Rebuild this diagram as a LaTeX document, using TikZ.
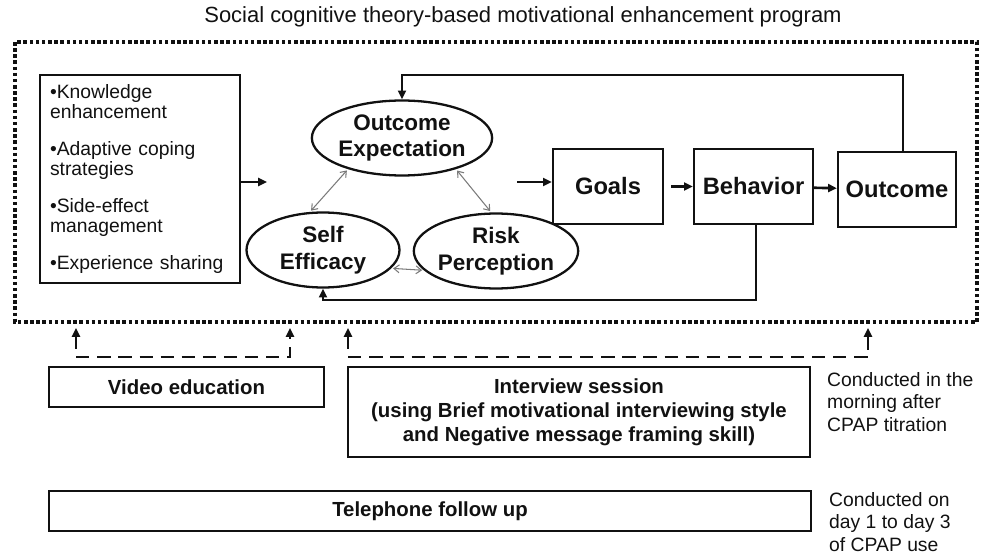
\documentclass[tikz,border=0pt]{standalone}
\usepackage{fontspec}
\setmainfont{Liberation Sans}
\usetikzlibrary{arrows.meta,shapes.geometric}
\definecolor{DCInk}{HTML}{111111}
\definecolor{DCGray}{HTML}{7A7A7A}
\tikzset{
  programtitle/.style={text=DCInk,font=\fontsize{12.5}{15}\selectfont},
  listbox/.style={draw=DCInk,line width=1.3pt,minimum width=4cm,minimum height=4.16cm,
                  text width=3.6cm,inner sep=0pt,align=left,text=DCInk,
                  font=\fontsize{11}{11.4}\selectfont},
  construct/.style={ellipse,draw=DCInk,line width=1.3pt,minimum height=1.5cm,inner sep=0pt,
                    align=center,text=DCInk,font=\fontsize{12.8}{15.3}\selectfont\bfseries},
  stage/.style={draw=DCInk,line width=1.3pt,minimum height=1.5cm,text=DCInk,
                font=\fontsize{13.5}{16}\selectfont\bfseries},
  session/.style={draw=DCInk,line width=1.3pt,align=center,text=DCInk,
                  font=\fontsize{11.6}{13.6}\selectfont\bfseries},
  note/.style={anchor=west,align=left,text=DCInk,font=\fontsize{11}{13}\selectfont},
  flow/.style={-{Triangle[length=5pt,width=4.5pt]},DCInk,line width=1.5pt},
  mutual/.style={{Straight Barb[length=3pt,width=4.5pt]}-{Straight Barb[length=3pt,width=4.5pt]},
                 DCGray,line width=0.6pt,shorten <=1pt,shorten >=1pt},
  trigger/.style={{Triangle[length=5pt,width=4.5pt]}-{Triangle[length=5pt,width=4.5pt]},
                  DCInk,line width=1.5pt,dash pattern=on 7.5pt off 4.5pt},
  frame/.style={DCInk,line width=2pt,dash pattern=on 2pt off 1.5pt},
}

\begin{document}
\begin{tikzpicture}[x=0.02cm,y=-0.02cm]
  \useasboundingbox (0,0) rectangle (985,554);

  \node[programtitle] (title) at (523,17)
    {Social cognitive theory-based motivational enhancement program};
  \draw[frame] (15,42) rectangle (977,322);

  \node[listbox] (know) at (140,179)
    {\textbullet Knowledge\\enhancement\\[9.6pt]
     \textbullet Adaptive coping\\strategies\\[9.6pt]
     \textbullet Side-effect\\management\\[9.6pt]
     \textbullet Experience sharing};

  \node[construct,minimum width=2.86cm] (oe) at (402,138) {Outcome\\Expectation};
  \node[construct,minimum width=3.06cm] (se) at (323,250) {Self\\Efficacy};
  \node[construct,minimum width=2.96cm] (rp) at (496,251) {Risk\\Perception};

  \node[stage,minimum width=2.2cm] (goals) at (608,186.5) {Goals};
  \node[stage,minimum width=2.38cm] (beh) at (753.5,186.5) {Behavior};
  \node[stage,minimum width=2.36cm] (outc) at (897,189.5) {Outcome};

  \draw[mutual] (oe.210) -- (se.109);
  \draw[mutual] (oe.330) -- (rp.97);
  \draw[mutual] (se.345) -- (rp.195);

  \coordinate (kout) at (267,182);
  \coordinate (gin) at (517,182);
  \draw[flow] (know.east |- kout) -- (kout);
  \draw[flow] (gin) -- (gin -| goals.west);
  \draw[flow,shorten <=4pt] (goals) -- (beh);
  \draw[flow] (beh) -- (outc);

  % feedback loops
  \coordinate (fbtop) at (903,75);
  \coordinate (fbbot) at (756,300);
  \draw[flow] (outc.north -| fbtop) |- (fbtop -| oe.north) -- (oe.north);
  \draw[flow] (beh.south -| fbbot) |- (fbbot -| se.south) -- (se.south);

  \node[session,minimum width=5.5cm,minimum height=0.8cm] (video) at (186.5,387) {Video education};
  \node[session,minimum width=9.24cm,minimum height=1.8cm] (interview) at (579,412)
    {Interview session\\(using Brief motivational interviewing style\\and Negative message framing skill)};
  \node[session,minimum width=15.24cm,minimum height=0.8cm] (phone) at (430,511) {Telephone follow up};

  \node[note] (morning) at (821,402) {Conducted in the\\morning after\\CPAP titration};
  \node[note] (days) at (823,522) {Conducted on\\day 1 to day 3\\of CPAP use};

  \coordinate (tipy) at (0,328);
  \coordinate (v1) at (76,357);
  \coordinate (v2) at (290,357);
  \coordinate (i1) at (348,357);
  \coordinate (i2) at (868,357);
  \draw[trigger] (v1 |- tipy) -- (v1) -- (v2) -- (v2 |- tipy);
  \draw[trigger] (i1 |- tipy) -- (i1) -- (i2) -- (i2 |- tipy);
\end{tikzpicture}
\end{document}
